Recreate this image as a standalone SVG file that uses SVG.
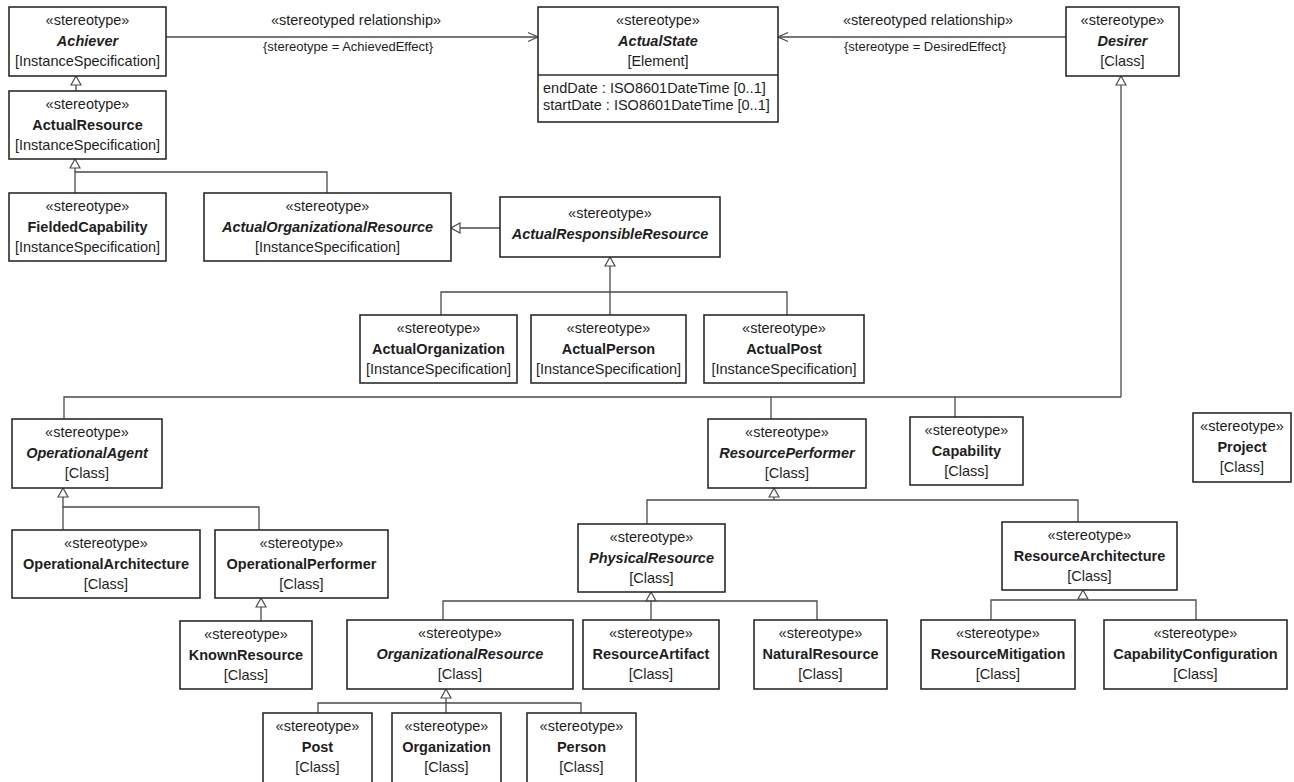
<svg xmlns="http://www.w3.org/2000/svg" width="1294" height="782" viewBox="0 0 1294 782">
<style>
.bx{fill:#fff;stroke:#2b2b2b;stroke-width:1.6}
.t{font-family:"Liberation Sans",Arial,sans-serif;font-size:14.5px;fill:#1e1e1e;text-anchor:middle}
.n{font-weight:bold}
.i{font-style:italic}
.a{text-anchor:start}
.sm{font-size:13px}
.ln{fill:none;stroke:#4a4a4a;stroke-width:1.3}
</style>
<defs>
<marker id="gen" viewBox="-1 -1 11 12" refX="9" refY="5" markerWidth="11" markerHeight="12" markerUnits="userSpaceOnUse" orient="auto">
<path d="M0,0 L9,5 L0,10 Z" fill="#fff" stroke="#4a4a4a" stroke-width="1.2"/>
</marker>
<marker id="open" viewBox="-1 -1 12 12" refX="10" refY="5" markerWidth="12" markerHeight="12" markerUnits="userSpaceOnUse" orient="auto">
<path d="M0,0.5 L10,5 L0,9.5" fill="none" stroke="#4a4a4a" stroke-width="1.2"/>
</marker>
</defs>
<rect width="1294" height="782" fill="#fff"/>

<g id="connectors">
<path class="ln" d="M166,37 H538" marker-end="url(#open)"/>
<path class="ln" d="M1066,37 H778" marker-end="url(#open)"/>
<text class="t" x="356" y="25">«stereotyped relationship»</text>
<text class="t sm" x="348" y="51">{stereotype = AchievedEffect}</text>
<text class="t" x="928" y="25">«stereotyped relationship»</text>
<text class="t sm" x="925" y="51">{stereotype = DesiredEffect}</text>
<path class="ln" d="M76,91 V76" marker-end="url(#gen)"/>
<path class="ln" d="M75,172 V159" marker-end="url(#gen)"/>
<path class="ln" d="M75,193 V172 H327 V193"/>
<path class="ln" d="M500,228 H451" marker-end="url(#gen)"/>
<path class="ln" d="M610,292 V257" marker-end="url(#gen)"/>
<path class="ln" d="M441,315 V292 H787 V315 M610,292 V315"/>
<path class="ln" d="M1121,397 V76" marker-end="url(#gen)"/>
<path class="ln" d="M64,419 V397 H1121 M771,397 V419 M955,397 V417"/>
<path class="ln" d="M63,507 V488" marker-end="url(#gen)"/>
<path class="ln" d="M63,530 V507 H259 V530"/>
<path class="ln" d="M261,621 V598" marker-end="url(#gen)"/>
<path class="ln" d="M774,500 V488" marker-end="url(#gen)"/>
<path class="ln" d="M647,524 V500 H1078 V522"/>
<path class="ln" d="M651,601 V592" marker-end="url(#gen)"/>
<path class="ln" d="M443,620 V601 H817 V620 M651,601 V620"/>
<path class="ln" d="M1083,600 V590" marker-end="url(#gen)"/>
<path class="ln" d="M991,620 V600 H1196 V620"/>
<path class="ln" d="M446,703 V689" marker-end="url(#gen)"/>
<path class="ln" d="M318,713 V703 H581 V713 M446,703 V713"/>
</g>

<g id="Achiever">
<rect class="bx" x="9" y="7" width="157" height="69"/>
<text class="t" x="87.5" y="25">«stereotype»</text>
<text class="t n i" x="87.5" y="46">Achiever</text>
<text class="t" x="87.5" y="66">[InstanceSpecification]</text>
</g>
<g id="ActualState">
<rect class="bx" x="538" y="7" width="240" height="115"/>
<line x1="538" y1="75" x2="778" y2="75" stroke="#2b2b2b" stroke-width="1.6"/>
<text class="t" x="658" y="25">«stereotype»</text>
<text class="t n i" x="658" y="46">ActualState</text>
<text class="t" x="658" y="66">[Element]</text>
<text class="t a" x="543" y="93">endDate : ISO8601DateTime [0..1]</text>
<text class="t a" x="543" y="110">startDate : ISO8601DateTime [0..1]</text>
</g>
<g id="Desirer">
<rect class="bx" x="1066" y="7" width="113" height="69"/>
<text class="t" x="1122.5" y="25">«stereotype»</text>
<text class="t n i" x="1122.5" y="46">Desirer</text>
<text class="t" x="1122.5" y="66">[Class]</text>
</g>
<g id="ActualResource">
<rect class="bx" x="9" y="91" width="157" height="68"/>
<text class="t" x="87.5" y="109">«stereotype»</text>
<text class="t n" x="87.5" y="130">ActualResource</text>
<text class="t" x="87.5" y="150">[InstanceSpecification]</text>
</g>
<g id="FieldedCapability">
<rect class="bx" x="9" y="193" width="157" height="68"/>
<text class="t" x="87.5" y="211">«stereotype»</text>
<text class="t n" x="87.5" y="232">FieldedCapability</text>
<text class="t" x="87.5" y="252">[InstanceSpecification]</text>
</g>
<g id="ActualOrganizationalResource">
<rect class="bx" x="204" y="193" width="247" height="68"/>
<text class="t" x="327.5" y="211">«stereotype»</text>
<text class="t n i" x="327.5" y="232">ActualOrganizationalResource</text>
<text class="t" x="327.5" y="252">[InstanceSpecification]</text>
</g>
<g id="ActualResponsibleResource">
<rect class="bx" x="500" y="197" width="220" height="60"/>
<text class="t" x="610" y="218">«stereotype»</text>
<text class="t n i" x="610" y="239">ActualResponsibleResource</text>
</g>
<g id="ActualOrganization">
<rect class="bx" x="360" y="315" width="157" height="68"/>
<text class="t" x="438.5" y="333">«stereotype»</text>
<text class="t n" x="438.5" y="354">ActualOrganization</text>
<text class="t" x="438.5" y="374">[InstanceSpecification]</text>
</g>
<g id="ActualPerson">
<rect class="bx" x="531" y="315" width="155" height="68"/>
<text class="t" x="608.5" y="333">«stereotype»</text>
<text class="t n" x="608.5" y="354">ActualPerson</text>
<text class="t" x="608.5" y="374">[InstanceSpecification]</text>
</g>
<g id="ActualPost">
<rect class="bx" x="704" y="315" width="160" height="68"/>
<text class="t" x="784" y="333">«stereotype»</text>
<text class="t n" x="784" y="354">ActualPost</text>
<text class="t" x="784" y="374">[InstanceSpecification]</text>
</g>
<g id="OperationalAgent">
<rect class="bx" x="12" y="419" width="150" height="69"/>
<text class="t" x="87" y="437">«stereotype»</text>
<text class="t n i" x="87" y="458">OperationalAgent</text>
<text class="t" x="87" y="478">[Class]</text>
</g>
<g id="ResourcePerformer">
<rect class="bx" x="708" y="419" width="158" height="69"/>
<text class="t" x="787" y="437">«stereotype»</text>
<text class="t n i" x="787" y="458">ResourcePerformer</text>
<text class="t" x="787" y="478">[Class]</text>
</g>
<g id="Capability">
<rect class="bx" x="910" y="417" width="113" height="68"/>
<text class="t" x="966.5" y="435">«stereotype»</text>
<text class="t n" x="966.5" y="456">Capability</text>
<text class="t" x="966.5" y="476">[Class]</text>
</g>
<g id="Project">
<rect class="bx" x="1193" y="413" width="98" height="69"/>
<text class="t" x="1242" y="431">«stereotype»</text>
<text class="t n" x="1242" y="452">Project</text>
<text class="t" x="1242" y="472">[Class]</text>
</g>
<g id="OperationalArchitecture">
<rect class="bx" x="12" y="530" width="188" height="68"/>
<text class="t" x="106" y="548">«stereotype»</text>
<text class="t n" x="106" y="569">OperationalArchitecture</text>
<text class="t" x="106" y="589">[Class]</text>
</g>
<g id="OperationalPerformer">
<rect class="bx" x="215" y="530" width="173" height="68"/>
<text class="t" x="301.5" y="548">«stereotype»</text>
<text class="t n" x="301.5" y="569">OperationalPerformer</text>
<text class="t" x="301.5" y="589">[Class]</text>
</g>
<g id="PhysicalResource">
<rect class="bx" x="578" y="524" width="147" height="68"/>
<text class="t" x="651.5" y="542">«stereotype»</text>
<text class="t n i" x="651.5" y="563">PhysicalResource</text>
<text class="t" x="651.5" y="583">[Class]</text>
</g>
<g id="ResourceArchitecture">
<rect class="bx" x="1002" y="522" width="175" height="68"/>
<text class="t" x="1089.5" y="540">«stereotype»</text>
<text class="t n" x="1089.5" y="561">ResourceArchitecture</text>
<text class="t" x="1089.5" y="581">[Class]</text>
</g>
<g id="KnownResource">
<rect class="bx" x="180" y="621" width="132" height="68"/>
<text class="t" x="246" y="639">«stereotype»</text>
<text class="t n" x="246" y="660">KnownResource</text>
<text class="t" x="246" y="680">[Class]</text>
</g>
<g id="OrganizationalResource">
<rect class="bx" x="347" y="620" width="226" height="69"/>
<text class="t" x="460" y="638">«stereotype»</text>
<text class="t n i" x="460" y="659">OrganizationalResource</text>
<text class="t" x="460" y="679">[Class]</text>
</g>
<g id="ResourceArtifact">
<rect class="bx" x="583" y="620" width="136" height="69"/>
<text class="t" x="651" y="638">«stereotype»</text>
<text class="t n" x="651" y="659">ResourceArtifact</text>
<text class="t" x="651" y="679">[Class]</text>
</g>
<g id="NaturalResource">
<rect class="bx" x="754" y="620" width="133" height="69"/>
<text class="t" x="820.5" y="638">«stereotype»</text>
<text class="t n" x="820.5" y="659">NaturalResource</text>
<text class="t" x="820.5" y="679">[Class]</text>
</g>
<g id="ResourceMitigation">
<rect class="bx" x="921" y="620" width="154" height="69"/>
<text class="t" x="998" y="638">«stereotype»</text>
<text class="t n" x="998" y="659">ResourceMitigation</text>
<text class="t" x="998" y="679">[Class]</text>
</g>
<g id="CapabilityConfiguration">
<rect class="bx" x="1104" y="620" width="183" height="69"/>
<text class="t" x="1195.5" y="638">«stereotype»</text>
<text class="t n" x="1195.5" y="659">CapabilityConfiguration</text>
<text class="t" x="1195.5" y="679">[Class]</text>
</g>
<g id="Post">
<rect class="bx" x="263" y="713" width="109" height="75"/>
<text class="t" x="317.5" y="731">«stereotype»</text>
<text class="t n" x="317.5" y="752">Post</text>
<text class="t" x="317.5" y="772">[Class]</text>
</g>
<g id="Organization">
<rect class="bx" x="392" y="713" width="109" height="75"/>
<text class="t" x="446.5" y="731">«stereotype»</text>
<text class="t n" x="446.5" y="752">Organization</text>
<text class="t" x="446.5" y="772">[Class]</text>
</g>
<g id="Person">
<rect class="bx" x="527" y="713" width="109" height="75"/>
<text class="t" x="581.5" y="731">«stereotype»</text>
<text class="t n" x="581.5" y="752">Person</text>
<text class="t" x="581.5" y="772">[Class]</text>
</g>
</svg>
